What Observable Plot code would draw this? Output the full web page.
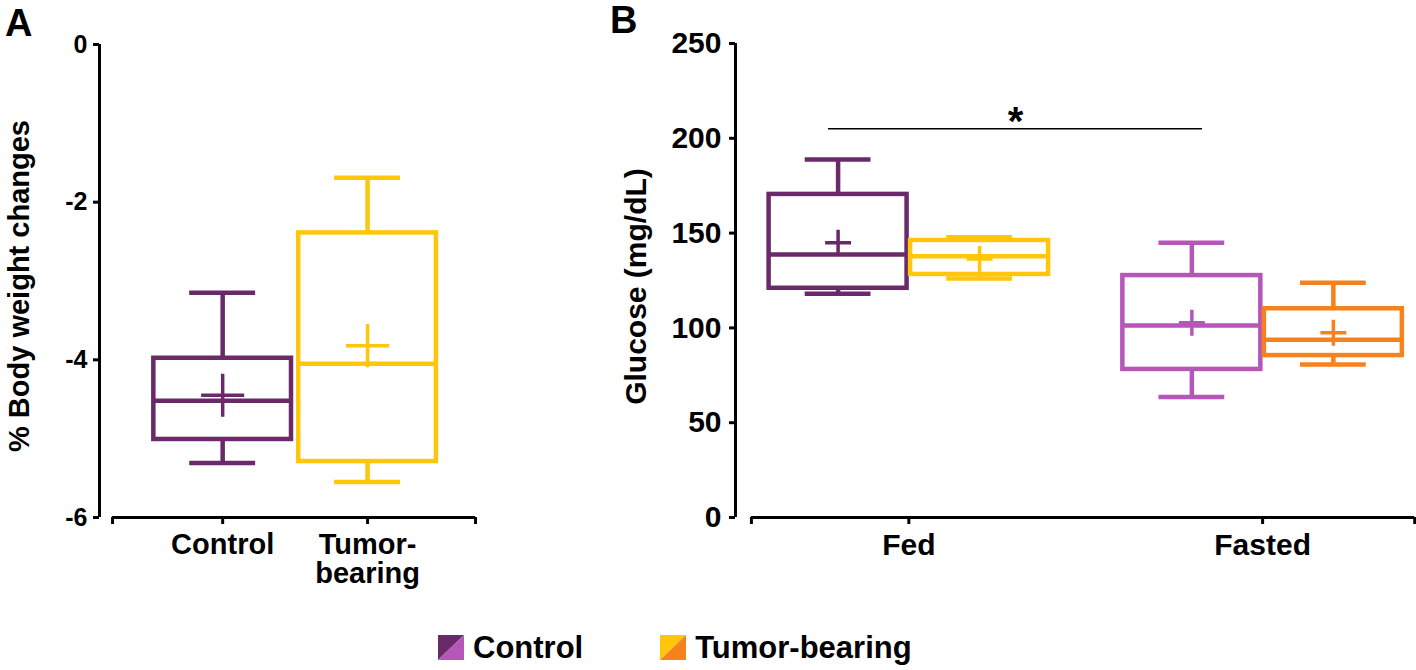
<!DOCTYPE html>
<html><head><meta charset="utf-8">
<script src="https://cdn.jsdelivr.net/npm/d3@7"></script>
<script src="https://cdn.jsdelivr.net/npm/@observablehq/plot@0.6"></script>
<style>
body{margin:0;background:#fff;font-family:"Liberation Sans",Arial,sans-serif;}
#wrap{position:relative;width:1416px;height:670px;overflow:hidden;background:#fff;}
.panel{position:absolute;top:0;}
.plabel{position:absolute;font-weight:bold;font-size:38px;line-height:1;color:#000;}
#legend{position:absolute;top:635px;left:438px;height:25px;display:flex;align-items:center;font-weight:bold;font-size:31px;line-height:25px;color:#000;}
#legend .item{display:flex;align-items:center;}
#legend svg{display:block;margin-right:9px;}
</style></head><body>
<div id="wrap">
  <div id="A" class="panel" style="left:0"></div>
  <div id="B" class="panel" style="left:600px"></div>
  <div class="plabel" style="left:5px;top:4px">A</div>
  <div class="plabel" style="left:610px;top:1px">B</div>
  <div id="legend"></div>
</div>
<script>
// ---------- Panel A: % body weight change ----------
const weightGroups = ["Control", "Tumor-bearing"];
const weightGroupLabels = ["Control", "Tumor-\nbearing"];
const weightMin    = [-5.31, -5.55];
const weightQ1     = [-5.01, -5.29];
const weightMedian = [-4.52, -4.05];
const weightQ3     = [-3.98, -2.39];
const weightMax    = [-3.15, -1.69];
const weightMean   = [-4.45, -3.82];
const weightTicks  = [0, -2, -4, -6];

// ---------- Panel B: glucose (rows = condition, cols = series) ----------
const conditions   = ["Fed", "Fasted"];
const seriesNames  = ["Control", "Tumor-bearing"];
const glucoseMin    = [[118, 126], [63.5, 80.7]];
const glucoseQ1     = [[120.9, 128.2], [78.1, 85.4]];
const glucoseMedian = [[138.7, 137.8], [101.3, 93.7]];
const glucoseQ3     = [[170.4, 146.1], [127.6, 110.1]];
const glucoseMax    = [[188.8, 147.8], [144.9, 123.8]];
const glucoseMean   = [[144.9, 136.4], [102.7, 97.4]];
const glucoseTicks  = [0, 50, 100, 150, 200, 250];
const significance  = {from: ["Fed", "Control"], to: ["Fasted", "Control"], y: 205, label: "*"};

// ---------- styles ----------
const paletteA = ["#6a2a69", "#ffc60b"];
const paletteB = [["#6a2a69", "#ffc60b"], ["#b656b9", "#f6821f"]];
const FONT = '"Liberation Sans", Arial, sans-serif';

// layout constants (in x-scale units)
const A = {boxW: 0.95, capW: 0.455, xLine: [-0.76, 1.745], domain: [-0.85, 1.8]};
const B = {boxW: 0.39, offset: 0.2, capW: 0.186, xLine: [-0.445, 1.43], domain: [-0.49, 1.435]};

const rowsA = weightGroups.map((g, i) => ({
  group: g, x: i, min: weightMin[i], q1: weightQ1[i], median: weightMedian[i],
  q3: weightQ3[i], max: weightMax[i], mean: weightMean[i], color: paletteA[i]
}));

const rowsB = [];
conditions.forEach((c, ci) => seriesNames.forEach((s, si) => rowsB.push({
  condition: c, series: s, x: ci + (si - 0.5) * 2 * B.offset,
  min: glucoseMin[ci][si], q1: glucoseQ1[ci][si], median: glucoseMedian[ci][si],
  q3: glucoseQ3[ci][si], max: glucoseMax[ci][si], mean: glucoseMean[ci][si],
  color: paletteB[ci][si]
})));

function boxMarks(rows, boxW, capW, crossR, sw) {
  return [
    Plot.ruleX(rows, {x: "x", y1: "q3", y2: "max", stroke: "color", strokeWidth: sw}),
    Plot.ruleX(rows, {x: "x", y1: "min", y2: "q1", stroke: "color", strokeWidth: sw}),
    Plot.ruleY(rows, {y: "max", x1: d => d.x - capW / 2, x2: d => d.x + capW / 2, stroke: "color", strokeWidth: sw}),
    Plot.ruleY(rows, {y: "min", x1: d => d.x - capW / 2, x2: d => d.x + capW / 2, stroke: "color", strokeWidth: sw}),
    Plot.rect(rows, {x1: d => d.x - boxW / 2, x2: d => d.x + boxW / 2, y1: "q1", y2: "q3", stroke: "color", fill: "none", strokeWidth: sw}),
    Plot.ruleY(rows, {y: "median", x1: d => d.x - boxW / 2, x2: d => d.x + boxW / 2, stroke: "color", strokeWidth: sw}),
    Plot.dot(rows, {x: "x", y: "mean", symbol: "plus", r: crossR, stroke: "color", fill: "none", strokeWidth: 3.5})
  ];
}

// ---------- Panel A ----------
const plotA = Plot.plot({
  width: 500, height: 600,
  marginLeft: 99, marginRight: 17, marginTop: 44, marginBottom: 83,
  x: {domain: A.domain},
  y: {domain: [-6, 0]},
  color: {type: "identity"},
  style: {fontFamily: FONT, fontWeight: "bold", color: "#000", background: "transparent", overflow: "visible"},
  marks: [
    Plot.ruleX([A.domain[0]], {y1: -6, y2: 0, strokeWidth: 3}),
    Plot.ruleY([-6], {x1: A.xLine[0], x2: A.xLine[1], strokeWidth: 3}),
    Plot.axisY({ticks: weightTicks, tickSize: 6, tickPadding: 6, fontSize: 25, strokeWidth: 3, label: null, tickFormat: d => String(d)}),
    Plot.axisX({ticks: [A.xLine[0], 0, 1, A.xLine[1]], tickSize: 7, tickPadding: 9, fontSize: 29, strokeWidth: 3, label: null, lineHeight: 1,
      tickFormat: d => Number.isInteger(d) ? weightGroupLabels[d] : ""}),
    Plot.text(["% Body weight changes"], {frameAnchor: "left", textAnchor: "middle", text: d => d, rotate: -90, dx: -80, dy: 5, fontSize: 29, fontWeight: "bold"}),
    ...boxMarks(rowsA, A.boxW, A.capW, 13.9, 4.5)
  ]
});
document.getElementById("A").appendChild(plotA);

// ---------- Panel B ----------
const findX = ([c, s]) => rowsB.find(r => r.condition === c && r.series === s).x;
const sigRow = {x1: findX(significance.from) - 0.027, x2: findX(significance.to) + 0.03, y: significance.y, label: significance.label};
sigRow.mid = (sigRow.x1 + sigRow.x2) / 2;

const plotB = Plot.plot({
  width: 816, height: 600,
  marginLeft: 135, marginRight: 0, marginTop: 43, marginBottom: 83,
  x: {domain: B.domain},
  y: {domain: [0, 250]},
  color: {type: "identity"},
  style: {fontFamily: FONT, fontWeight: "bold", color: "#000", background: "transparent", overflow: "visible"},
  marks: [
    Plot.ruleX([B.domain[0]], {y1: 0, y2: 250, strokeWidth: 3}),
    Plot.ruleY([0], {x1: B.xLine[0], x2: B.xLine[1], strokeWidth: 3}),
    Plot.axisY({ticks: glucoseTicks, tickSize: 6, tickPadding: 8, fontSize: 30, strokeWidth: 3, label: null, tickFormat: d => String(d)}),
    Plot.axisX({ticks: [B.xLine[0], 0, 1, B.xLine[1]], tickSize: 7, tickPadding: 9, fontSize: 30, strokeWidth: 3, label: null,
      tickFormat: d => Number.isInteger(d) ? conditions[d] : ""}),
    Plot.text(["Glucose (mg/dL)"], {frameAnchor: "left", textAnchor: "middle", text: d => d, rotate: -90, dx: -99, dy: 6, fontSize: 30, fontWeight: "bold"}),
    Plot.ruleY([sigRow], {y: "y", x1: "x1", x2: "x2", strokeWidth: 1.5}),
    Plot.text([sigRow], {x: "mid", y: "y", text: "label", fontSize: 40, fontWeight: "bold", lineAnchor: "bottom", dy: 6}),
    ...boxMarks(rowsB, B.boxW, B.capW, 8.4, 4.5)
  ]
});
document.getElementById("B").appendChild(plotB);

// ---------- Legend ----------
const legendColors = [[paletteB[0][0], paletteB[1][0]], [paletteB[0][1], paletteB[1][1]]];
const legend = document.getElementById("legend");
seriesNames.forEach((s, i) => {
  const item = document.createElement("div");
  item.className = "item";
  if (i > 0) item.style.marginLeft = "77px";
  item.innerHTML = `<svg width="26" height="25"><polygon points="0,0 26,0 0,25" fill="${legendColors[i][0]}"/><polygon points="26,0 26,25 0,25" fill="${legendColors[i][1]}"/></svg><span>${s}</span>`;
  legend.appendChild(item);
});
</script>
</body></html>
